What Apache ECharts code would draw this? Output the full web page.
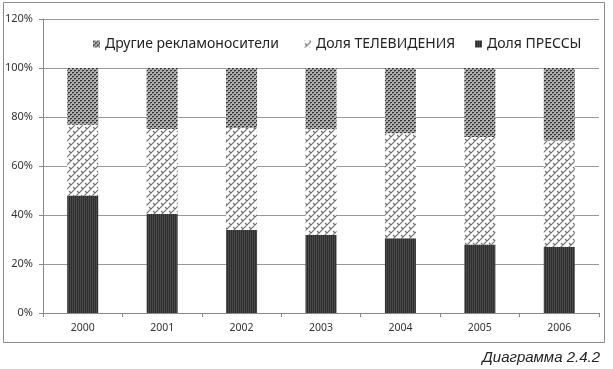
<!DOCTYPE html>
<html><head><meta charset="utf-8">
<script src="https://cdn.jsdelivr.net/npm/echarts@6/dist/echarts.min.js"></script>
<style>html,body{margin:0;padding:0;background:#fff}#c{width:613px;height:369px}</style>
</head><body><div id="c"></div>
<script>
const years = ['2000','2001','2002','2003','2004','2005','2006'];
const pressShare = [48.0, 40.4, 33.9, 31.8, 30.5, 28.0, 26.9];
const tvShare = [28.8, 34.7, 41.6, 43.2, 42.9, 43.8, 43.5];
const otherShare = [23.2, 24.9, 24.5, 25.0, 26.6, 28.2, 29.6];
const seriesNames = ['Другие рекламоносители', 'Доля ТЕЛЕВИДЕНИЯ', 'Доля ПРЕССЫ'];
const yTicks = [0, 20, 40, 60, 80, 100, 120];

function makePattern(w, h, draw) {
  const c = document.createElement('canvas');
  c.width = w; c.height = h;
  const g = c.getContext('2d');
  draw(g);
  return { image: c, repeat: 'repeat' };
}
const otherPat = makePattern(4, 4, g => {
  g.fillStyle = '#b0b0b0'; g.fillRect(0,0,4,4);
  g.fillStyle = '#333';
  g.fillRect(0,0,1,1); g.fillRect(1,0,1,1); g.fillRect(2,2,1,1); g.fillRect(3,2,1,1);
  g.fillStyle = '#6a6a6a';
  g.fillRect(0,1,1,1); g.fillRect(2,3,1,1);
});
const tvPat = makePattern(8, 8, g => {
  g.fillStyle = '#ffffff'; g.fillRect(0,0,8,8);
  g.strokeStyle = '#6e6e6e'; g.lineWidth = 1.2;
  g.beginPath();
  g.moveTo(0,8); g.lineTo(8,0);
  g.moveTo(-4,4); g.lineTo(4,-4);
  g.moveTo(4,12); g.lineTo(12,4);
  g.moveTo(1,3); g.lineTo(3,5);
  g.moveTo(5,7); g.lineTo(7,9);
  g.moveTo(5,-1); g.lineTo(7,1);
  g.stroke();
});
const pressPat = makePattern(2, 2, g => {
  g.fillStyle = '#2e2e2e'; g.fillRect(0,0,2,2);
  g.fillStyle = '#4a4a4a'; g.fillRect(0,0,1,2);
});

const chart = echarts.init(document.getElementById('c'), null, {renderer: 'canvas'});
const barW = 31;
const font = '"Noto Sans", sans-serif';
function legendAt(name, left) {
  return {
    data: [name], left: left, top: 32, itemWidth: 7, itemHeight: 7, itemGap: 5,
    icon: 'rect', textStyle: { fontFamily: font, fontSize: 14, color: '#222' },
    selectedMode: false
  };
}
chart.setOption({
  animation: false,
  graphic: [
    { type: 'rect', shape: { x: 3.5, y: 2.5, width: 601, height: 340 },
      style: { fill: null, stroke: '#8c8c8c', lineWidth: 1 }, silent: true },
    { type: 'text', right: 13, top: 350,
      style: { text: 'Диаграмма 2.4.2', font: 'italic 15px "Liberation Sans", Arial, sans-serif', fill: '#222' } }
  ],
  legend: [legendAt(seriesNames[0], 88), legendAt(seriesNames[1], 299), legendAt(seriesNames[2], 470)],
  grid: { left: 43, right: 14, top: 19, bottom: 56 },
  xAxis: {
    type: 'category', data: years,
    axisLine: { lineStyle: { color: '#888' } },
    axisTick: { show: true, length: 4, lineStyle: { color: '#888' } },
    axisLabel: { fontFamily: font, fontSize: 10.5, color: '#333', margin: 10 }
  },
  yAxis: {
    type: 'value', min: yTicks[0], max: yTicks[yTicks.length - 1], interval: 20,
    axisLine: { show: true, lineStyle: { color: '#888' } },
    axisTick: { show: true, length: 4, lineStyle: { color: '#888' } },
    splitLine: { lineStyle: { color: '#999' } },
    axisLabel: { fontFamily: font, fontSize: 11, color: '#333', margin: 10, formatter: v => v + '%' }
  },
  series: [
    { name: seriesNames[2], type: 'bar', stack: 's', barWidth: barW, data: pressShare,
      itemStyle: { color: pressPat } },
    { name: seriesNames[1], type: 'bar', stack: 's', barWidth: barW, data: tvShare,
      itemStyle: { color: tvPat } },
    { name: seriesNames[0], type: 'bar', stack: 's', barWidth: barW, data: otherShare,
      itemStyle: { color: otherPat } }
  ]
});
</script></body></html>
